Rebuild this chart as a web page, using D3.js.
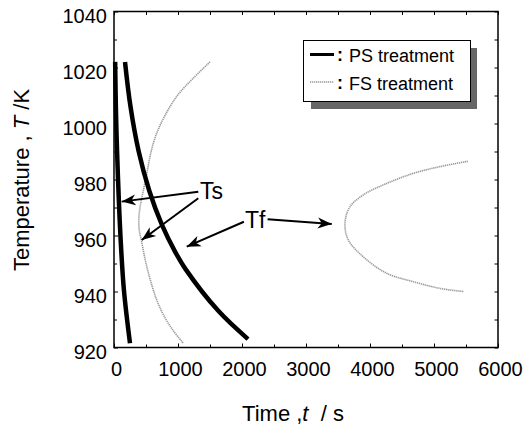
<!DOCTYPE html>
<html>
<head>
<meta charset="utf-8">
<script src="https://cdn.jsdelivr.net/npm/d3@7"></script>
<style>
  body { margin: 0; background: #fff; }
  svg { display: block; font-family: "Liberation Sans", Arial, sans-serif; }
</style>
</head>
<body>
<div id="container"></div>
<script>
// TTT-like curves: temperature vs time for PS / FS treatment

// tick values
var xTicks = [0, 1000, 2000, 3000, 4000, 5000, 6000];
var xMinor = [500, 1500, 2500, 3500, 4500, 5500];
var yTicks = [920, 940, 960, 980, 1000, 1020, 1040];
var yMinor = [930, 950, 970, 990, 1010, 1030];

// series, [time s, temperature K]
var psTs = [[18, 1022], [30, 1005], [48, 990], [75, 973], [105, 958], [155, 940.5], [250, 921.5]];
var psTf = [[172, 1022], [258, 1006], [386, 990], [551, 976], [746, 964], [960, 954],
            [1118, 948], [1633, 933], [2094, 923]];
var fsTs = [[1500, 1022], [1230, 1016], [990, 1010], [800, 1003], [667, 996.5], [580, 990],
            [511, 982], [458, 976], [410, 970.5], [388, 966], [395, 962], [430, 958], [511, 949],
            [667, 937], [800, 930.5], [927, 926], [1083, 921.5]];
var fsTf = [[5530, 986.5], [5094, 984.6], [4677, 982.2], [4261, 978.6], [3895, 974.5], [3688, 970.3],
            [3609, 964.4], [3661, 958.4], [3895, 952.4], [4261, 946.5], [4677, 943.5], [5094, 941.1],
            [5460, 940]];

// annotations in data units: label position and arrows [from, to]
var labels = [{text: "Ts", t: 1344, T: 972.9}, {text: "Tf", t: 2047, T: 962.7}];
var arrows = [
  [[1317, 975.6], [120, 972.1]],
  [[1317, 973.3], [433, 958.4]],
  [[2030, 964.9], [1136, 956]],
  [[2400, 965.8], [3402, 964.1]]
];

var W = 525, H = 428;
var plot = {left: 114, right: 498, top: 11.5, bottom: 347.5};

var svg = d3.select("#container").append("svg")
    .attr("width", W)
    .attr("height", H);

var x = d3.scaleLinear().domain([0, 6000]).range([plot.left, plot.right]);
var y = d3.scaleLinear().domain([920, 1040]).range([plot.bottom, plot.top]);

function clean(g) {
  g.select(".domain").remove();
  g.attr("font-family", null).attr("font-size", null);
  g.selectAll(".tick line").attr("stroke-width", 1);
}

// bottom axis with labels
svg.append("g")
    .attr("transform", "translate(0," + plot.bottom + ")")
    .call(d3.axisBottom(x).tickValues(xTicks).tickFormat(d3.format("d"))
      .tickSizeInner(-4).tickSizeOuter(0).tickPadding(14))
    .call(clean)
  .selectAll("text")
    .style("font-size", "20px")
    .attr("dx", "2px");

svg.append("g")
    .attr("transform", "translate(0," + plot.bottom + ")")
    .call(d3.axisBottom(x).tickValues(xMinor).tickSizeInner(-3).tickSizeOuter(0).tickFormat(""))
    .call(clean);

// top axis, ticks only
svg.append("g")
    .attr("transform", "translate(0," + plot.top + ")")
    .call(d3.axisTop(x).tickValues(xTicks.concat(xMinor)).tickSizeInner(-3.5).tickSizeOuter(0).tickFormat(""))
    .call(clean);

// left axis with labels
svg.append("g")
    .attr("transform", "translate(" + plot.left + ",0)")
    .call(d3.axisLeft(y).tickValues(yTicks).tickFormat(d3.format("d"))
      .tickSizeInner(-4).tickSizeOuter(0).tickPadding(7))
    .call(clean)
  .selectAll("text")
    .style("font-size", "20px")
    .attr("dy", "11.4px");

svg.append("g")
    .attr("transform", "translate(" + plot.left + ",0)")
    .call(d3.axisLeft(y).tickValues(yMinor).tickSizeInner(-3).tickSizeOuter(0).tickFormat(""))
    .call(clean);

// right axis, ticks only
svg.append("g")
    .attr("transform", "translate(" + plot.right + ",0)")
    .call(d3.axisRight(y).tickValues(yTicks.concat(yMinor)).tickSizeInner(-3.5).tickSizeOuter(0).tickFormat(""))
    .call(clean);

// frame
svg.append("rect")
    .attr("x", plot.left)
    .attr("y", plot.top)
    .attr("width", plot.right - plot.left)
    .attr("height", plot.bottom - plot.top)
    .attr("fill", "none")
    .attr("stroke", "#000")
    .attr("stroke-width", 1.5);

// curves
var line = d3.line()
    .x(function(d) { return x(d[0]); })
    .y(function(d) { return y(d[1]); })
    .curve(d3.curveCatmullRom.alpha(0.5));

[fsTs, fsTf].forEach(function(s) {
  svg.append("path")
      .datum(s)
      .attr("d", line)
      .attr("fill", "none")
      .attr("stroke", "#9a9a9a")
      .attr("stroke-width", 1.6)
      .attr("stroke-dasharray", "1.3,0.7");
});

[psTs, psTf].forEach(function(s) {
  svg.append("path")
      .datum(s)
      .attr("d", line)
      .attr("fill", "none")
      .attr("stroke", "#000")
      .attr("stroke-width", 4.5);
});

// arrow head
svg.append("defs").append("marker")
    .attr("id", "head")
    .attr("markerUnits", "userSpaceOnUse")
    .attr("markerWidth", 16)
    .attr("markerHeight", 12)
    .attr("refX", 14)
    .attr("refY", 6)
    .attr("orient", "auto")
  .append("path")
    .attr("d", "M0,0.5 L14,6 L0,11.5 L4,6 Z")
    .attr("fill", "#000");

svg.selectAll(".arrow")
    .data(arrows)
  .enter().append("line")
    .attr("class", "arrow")
    .attr("x1", function(d) { return x(d[0][0]); })
    .attr("y1", function(d) { return y(d[0][1]); })
    .attr("x2", function(d) { return x(d[1][0]); })
    .attr("y2", function(d) { return y(d[1][1]); })
    .attr("stroke", "#000")
    .attr("stroke-width", 2)
    .attr("marker-end", "url(#head)");

svg.selectAll(".note")
    .data(labels)
  .enter().append("text")
    .attr("class", "note")
    .attr("x", function(d) { return x(d.t); })
    .attr("y", function(d) { return y(d.T); })
    .style("font-size", "23px")
    .text(function(d) { return d.text; });

// legend with shadow
var lg = svg.append("g");
lg.append("rect")
    .attr("x", 311).attr("y", 48)
    .attr("width", 166).attr("height", 61)
    .attr("fill", "#666");
lg.append("rect")
    .attr("x", 303.5).attr("y", 40.5)
    .attr("width", 167).attr("height", 61)
    .attr("fill", "#fff")
    .attr("stroke", "#000")
    .attr("stroke-width", 1);

var legendItems = [
  {name: "PS treatment", stroke: "#000", width: 3, dash: null, yy: 54.5},
  {name: "FS treatment", stroke: "#9a9a9a", width: 1.5, dash: "1.3,0.7", yy: 82}
];
legendItems.forEach(function(d) {
  lg.append("line")
      .attr("x1", 310).attr("x2", 334)
      .attr("y1", d.yy).attr("y2", d.yy)
      .attr("stroke", d.stroke)
      .attr("stroke-width", d.width)
      .attr("stroke-dasharray", d.dash);
  lg.append("text")
      .attr("x", 337).attr("y", d.yy + 6.5)
      .style("font-size", "18px")
      .style("font-weight", "bold")
      .text(":");
  lg.append("text")
      .attr("x", 349).attr("y", d.yy + 7.5)
      .style("font-size", "18px")
      .text(d.name);
});

// axis titles
var xt = svg.append("text")
    .attr("x", 293)
    .attr("y", 421)
    .attr("text-anchor", "middle")
    .style("font-size", "22px")
    .style("white-space", "pre");
xt.append("tspan").text("Time ,");
xt.append("tspan").style("font-style", "italic").text("t");
xt.append("tspan").text("  / s");

var yt = svg.append("text")
    .attr("transform", "translate(29,180) rotate(-90)")
    .attr("text-anchor", "middle")
    .style("font-size", "22px")
    .style("white-space", "pre");
yt.append("tspan").text("Temperature , ");
yt.append("tspan").style("font-style", "italic").text("T");
yt.append("tspan").text(" /K");
</script>
</body>
</html>
